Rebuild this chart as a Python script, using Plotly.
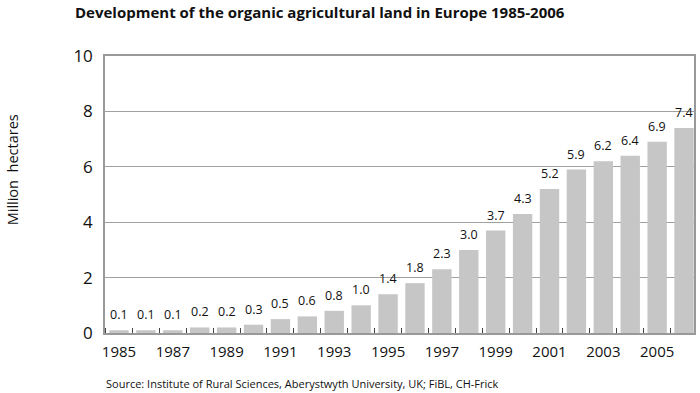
import plotly.graph_objects as go

years = list(range(1985, 2007))
hectares = [0.1, 0.1, 0.1, 0.2, 0.2, 0.3, 0.5, 0.6, 0.8, 1.0, 1.4, 1.8, 2.3, 3.0,
            3.7, 4.3, 5.2, 5.9, 6.2, 6.4, 6.9, 7.4]
label_years = years[::2]
y_ticks = [0, 2, 4, 6, 8, 10]

title = "Development of the organic agricultural land in Europe 1985-2006"
source = "Source: Institute of Rural Sciences, Aberystwyth University, UK; FiBL, CH-Frick"
font = "Open Sans, Noto Sans, sans-serif"

W, H = 700, 393
ML, MR, MT, MB = 105, 4, 56, 60
plot_w = W - ML - MR
plot_h = H - MT - MB

fig = go.Figure(go.Bar(
    x=years, y=hectares,
    marker=dict(color="#c6c6c6", line=dict(width=0)),
    width=0.72,
    hoverinfo="skip",
))

value_labels = [
    dict(x=yr, y=v, xref="x", yref="y", text=f"{v:.1f}", showarrow=False,
         xanchor="center", yanchor="bottom", yshift=5,
         font=dict(size=12.5, family=font, color="#111"))
    for yr, v in zip(years, hectares)
]

fig.update_layout(
    width=W, height=H,
    margin=dict(l=ML, r=MR, t=MT, b=MB),
    paper_bgcolor="white", plot_bgcolor="white",
    font=dict(family=font, color="#111"),
    showlegend=False,
    bargap=0.28,
    title=dict(text=f"<b>{title}</b>", x=75/W, xanchor="left", y=1-13/H, yanchor="middle",
               font=dict(size=15, family=font, color="#111")),
    xaxis=dict(
        range=[years[0] - 0.52, years[-1] + 0.37],
        tickmode="array", tickvals=label_years, ticktext=[str(y) for y in label_years],
        ticks="", tickfont=dict(size=15), showgrid=False, ticklabelstandoff=4,
        showline=True, linecolor="#999", linewidth=1.5, mirror=True,
        minor=dict(tick0=years[0] - 0.5, dtick=1, ticks="inside", ticklen=5,
                   tickcolor="#444", showgrid=False),
        zeroline=False,
    ),
    yaxis=dict(
        range=[0, 10], tickvals=y_ticks, tickfont=dict(size=17),
        showgrid=True, gridcolor="#a0a0a0", gridwidth=1.3,
        showline=True, linecolor="#999", linewidth=1.5, mirror=True,
        zeroline=False, ticks="", ticklabelstandoff=7,
    ),
    annotations=value_labels + [
        dict(text="Million  hectares", x=(12 - ML) / plot_w, y=(H - MB - 170) / plot_h,
             xref="paper", yref="paper",
             xanchor="center", yanchor="middle", textangle=-90, showarrow=False,
             font=dict(size=14.5, family=font, color="#111")),
        dict(text=source, x=(104 - ML) / plot_w, y=(H - MB - 383) / plot_h,
             xref="paper", yref="paper", showarrow=False,
             xanchor="left", yanchor="middle", font=dict(size=11, family=font, color="#111")),
    ],
)

fig.write_html("out.html", config={"displayModeBar": False},
               post_script="document.body.style.margin='0';")
